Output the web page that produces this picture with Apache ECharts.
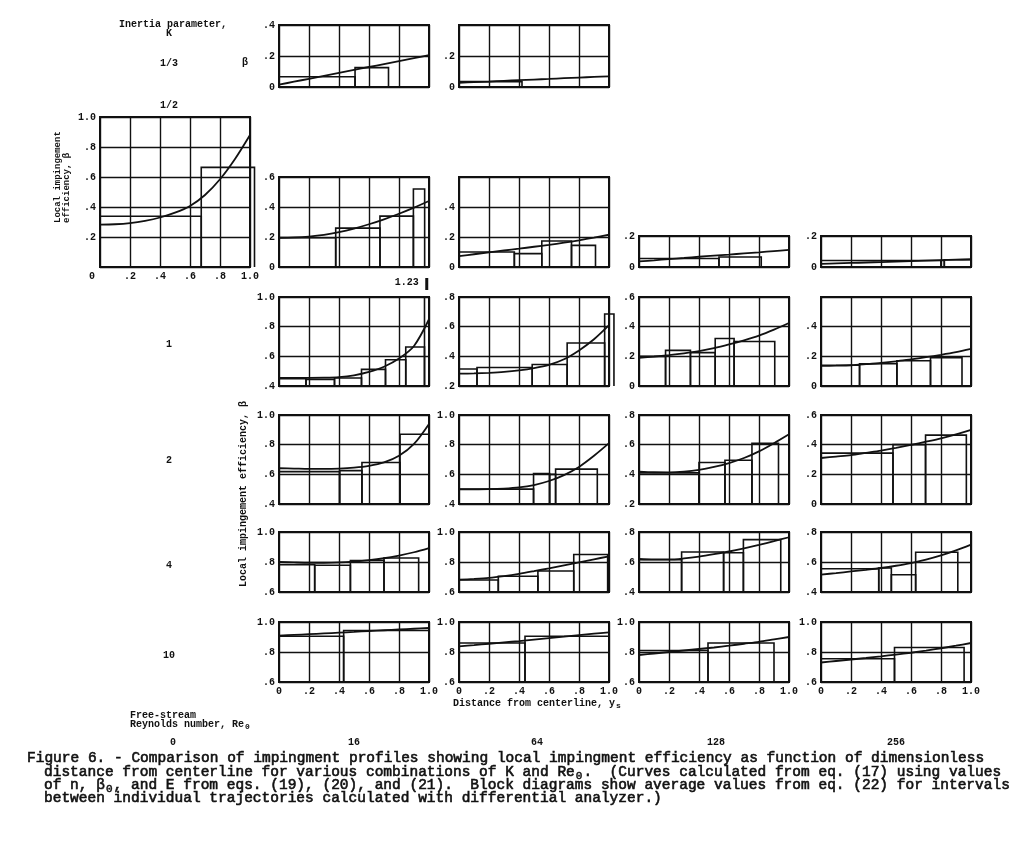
<!DOCTYPE html>
<html><head><meta charset="utf-8">
<script src="https://cdn.jsdelivr.net/npm/echarts@6/dist/echarts.min.js"></script>
<style>html,body{margin:0;padding:0;background:#fff}#c{width:1025px;height:842px}</style>
</head><body><div id="c"></div>
<script>
// ---------------- DATA ----------------
const xs = [0, 0.1, 0.2, 0.3, 0.4, 0.5, 0.6, 0.7, 0.8, 0.9, 1.0];
const kLabels = ['1/3', '1/2', '1', '2', '4', '10'];
const reLabels = ['0', '16', '64', '128', '256'];

// curves (beta at xs)
const curve_k13_re16 = [0.015, 0.034, 0.053, 0.072, 0.091, 0.11, 0.129, 0.148, 0.167, 0.186, 0.205];
const curve_k13_re64 = [0.027, 0.031, 0.035, 0.04, 0.044, 0.048, 0.052, 0.057, 0.061, 0.065, 0.069];
const curve_k12_re0 = [0.282, 0.285, 0.293, 0.308, 0.33, 0.362, 0.407, 0.48, 0.585, 0.72, 0.88];
const curve_k12_re16 = [0.195, 0.197, 0.203, 0.214, 0.232, 0.256, 0.285, 0.318, 0.355, 0.396, 0.44];
const curve_k12_re64 = [0.072, 0.085, 0.098, 0.11, 0.122, 0.135, 0.148, 0.162, 0.178, 0.196, 0.215];
const curve_k12_re128 = [0.036, 0.043, 0.051, 0.058, 0.066, 0.073, 0.08, 0.088, 0.095, 0.103, 0.11];
const curve_k12_re256 = [0.02, 0.023, 0.026, 0.029, 0.032, 0.035, 0.038, 0.041, 0.044, 0.047, 0.05];
const curve_k1_re16 = [0.455, 0.455, 0.455, 0.456, 0.46, 0.472, 0.495, 0.53, 0.585, 0.67, 0.85];
const curve_k1_re64 = [0.283, 0.285, 0.289, 0.295, 0.305, 0.32, 0.342, 0.38, 0.44, 0.515, 0.61];
const curve_k1_re128 = [0.19, 0.198, 0.208, 0.22, 0.235, 0.255, 0.28, 0.308, 0.34, 0.38, 0.425];
const curve_k1_re256 = [0.135, 0.137, 0.14, 0.147, 0.155, 0.166, 0.18, 0.194, 0.21, 0.228, 0.25];
const curve_k2_re16 = [0.641, 0.639, 0.637, 0.637, 0.639, 0.645, 0.657, 0.68, 0.725, 0.805, 0.94];
const curve_k2_re64 = [0.498, 0.499, 0.5, 0.504, 0.512, 0.528, 0.555, 0.595, 0.65, 0.725, 0.81];
const curve_k2_re128 = [0.418, 0.414, 0.413, 0.418, 0.43, 0.45, 0.476, 0.51, 0.555, 0.61, 0.67];
const curve_k2_re256 = [0.31, 0.32, 0.33, 0.345, 0.36, 0.378, 0.398, 0.42, 0.443, 0.47, 0.5];
const curve_k4_re16 = [0.8, 0.797, 0.795, 0.795, 0.797, 0.803, 0.812, 0.825, 0.843, 0.865, 0.893];
const curve_k4_re64 = [0.682, 0.687, 0.694, 0.706, 0.721, 0.739, 0.758, 0.778, 0.798, 0.818, 0.838];
const curve_k4_re128 = [0.62, 0.617, 0.617, 0.624, 0.636, 0.652, 0.67, 0.691, 0.714, 0.739, 0.765];
const curve_k4_re256 = [0.516, 0.526, 0.537, 0.548, 0.56, 0.575, 0.593, 0.616, 0.644, 0.678, 0.716];
const curve_k10_re16 = [0.909, 0.914, 0.919, 0.924, 0.929, 0.934, 0.94, 0.945, 0.95, 0.955, 0.96];
const curve_k10_re64 = [0.838, 0.846, 0.855, 0.864, 0.873, 0.883, 0.893, 0.903, 0.913, 0.922, 0.931];
const curve_k10_re128 = [0.78, 0.79, 0.8, 0.81, 0.82, 0.83, 0.842, 0.855, 0.868, 0.884, 0.9];
const curve_k10_re256 = [0.73, 0.74, 0.75, 0.76, 0.771, 0.783, 0.795, 0.809, 0.825, 0.842, 0.86];

// block diagrams: [from, to, average beta]
const blocks_k13_re16 = [[0, 0.507, 0.066], [0.507, 0.73, 0.125]];
const blocks_k13_re64 = [[0, 0.42, 0.035]];
const blocks_k12_re0 = [[0, 0.675, 0.338], [0.675, 1.03, 0.664]];
const blocks_k12_re16 = [[0, 0.378, 0.195], [0.378, 0.673, 0.259], [0.673, 0.896, 0.339], [0.896, 0.971, 0.52]];
const blocks_k12_re64 = [[0, 0.369, 0.1], [0.369, 0.552, 0.089], [0.552, 0.75, 0.173], [0.75, 0.91, 0.144]];
const blocks_k12_re128 = [[0, 0.533, 0.055], [0.533, 0.815, 0.065]];
const blocks_k12_re256 = [[0, 0.8, 0.042], [0.8, 0.822, 0.042], [0.822, 1.0, 0.047]];
const blocks_k1_re16 = [[0, 0.18, 0.449], [0.18, 0.37, 0.445], [0.37, 0.55, 0.454], [0.55, 0.71, 0.512], [0.71, 0.845, 0.577], [0.845, 0.97, 0.663], [0.97, 1.0, 1.23]];
const blocks_k1_re64 = [[0, 0.12, 0.315], [0.12, 0.488, 0.325], [0.488, 0.721, 0.345], [0.721, 0.971, 0.49], [0.971, 1.033, 0.685]];
const blocks_k1_re128 = [[0, 0.177, 0.2], [0.177, 0.343, 0.24], [0.343, 0.508, 0.225], [0.508, 0.634, 0.32], [0.634, 0.905, 0.3]];
const blocks_k1_re256 = [[0, 0.257, 0.14], [0.257, 0.506, 0.15], [0.506, 0.73, 0.17], [0.73, 0.94, 0.19]];
const blocks_k2_re16 = [[0, 0.404, 0.618], [0.404, 0.553, 0.625], [0.553, 0.807, 0.68], [0.807, 1.0, 0.87]];
const blocks_k2_re64 = [[0, 0.497, 0.5], [0.497, 0.604, 0.605], [0.604, 0.644, 0.6], [0.644, 0.922, 0.635]];
const blocks_k2_re128 = [[0, 0.4, 0.41], [0.4, 0.573, 0.48], [0.573, 0.753, 0.495], [0.753, 0.93, 0.61]];
const blocks_k2_re256 = [[0, 0.48, 0.343], [0.48, 0.697, 0.4], [0.697, 0.969, 0.464]];
const blocks_k4_re16 = [[0, 0.238, 0.782], [0.238, 0.476, 0.778], [0.476, 0.7, 0.81], [0.7, 0.931, 0.827]];
const blocks_k4_re64 = [[0, 0.262, 0.68], [0.262, 0.526, 0.705], [0.526, 0.765, 0.74], [0.765, 0.991, 0.85]];
const blocks_k4_re128 = [[0, 0.284, 0.615], [0.284, 0.564, 0.667], [0.564, 0.696, 0.662], [0.696, 0.945, 0.749]];
const blocks_k4_re256 = [[0, 0.385, 0.555], [0.385, 0.469, 0.56], [0.469, 0.631, 0.515], [0.631, 0.912, 0.665]];
const blocks_k10_re16 = [[0, 0.431, 0.905], [0.431, 1.0, 0.943]];
const blocks_k10_re64 = [[0, 0.44, 0.86], [0.44, 1.0, 0.905]];
const blocks_k10_re128 = [[0, 0.46, 0.81], [0.46, 0.9, 0.86]];
const blocks_k10_re256 = [[0, 0.49, 0.755], [0.49, 0.954, 0.83]];

// tick labels shown on each panel's beta axis
const xTickLabels = ['0', '.2', '.4', '.6', '.8', '1.0'];
const yl_k13_re16 = ['.4', '.2', '0'];
const yl_k13_re64 = ['.2', '0'];
const yl_k12_re0 = ['1.0', '.8', '.6', '.4', '.2'];
const yl_k12_re16 = ['.6', '.4', '.2', '0'];
const yl_k12_re64 = ['.4', '.2', '0'];
const yl_k12_re128 = ['.2', '0'];
const yl_k12_re256 = ['.2', '0'];
const yl_k1_re16 = ['1.0', '.8', '.6', '.4'];
const yl_k1_re64 = ['.8', '.6', '.4', '.2'];
const yl_k1_re128 = ['.6', '.4', '.2', '0'];
const yl_k1_re256 = ['.4', '.2', '0'];
const yl_k2_re16 = ['1.0', '.8', '.6', '.4'];
const yl_k2_re64 = ['1.0', '.8', '.6', '.4'];
const yl_k2_re128 = ['.8', '.6', '.4', '.2'];
const yl_k2_re256 = ['.6', '.4', '.2', '0'];
const yl_k4_re16 = ['1.0', '.8', '.6'];
const yl_k4_re64 = ['1.0', '.8', '.6'];
const yl_k4_re128 = ['.8', '.6', '.4'];
const yl_k4_re256 = ['.8', '.6', '.4'];
const yl_k10 = ['1.0', '.8', '.6'];

// ---------------- LAYOUT ----------------
const colLeft = [100, 279, 459, 639, 821];
const PW = 150;
const panels = [
  {col:1, top:25, h:62, ymin:0, ymax:0.4, c:curve_k13_re16, b:blocks_k13_re16, yl:yl_k13_re16},
  {col:2, top:25, h:62, ymin:0, ymax:0.4, c:curve_k13_re64, b:blocks_k13_re64, yl:yl_k13_re64},
  {col:0, top:117, h:150, ymin:0, ymax:1.0, c:curve_k12_re0, b:blocks_k12_re0, yl:yl_k12_re0, xl:'shift'},
  {col:1, top:177, h:90, ymin:0, ymax:0.6, c:curve_k12_re16, b:blocks_k12_re16, yl:yl_k12_re16},
  {col:2, top:177, h:90, ymin:0, ymax:0.6, c:curve_k12_re64, b:blocks_k12_re64, yl:yl_k12_re64},
  {col:3, top:236, h:31, ymin:0, ymax:0.2, c:curve_k12_re128, b:blocks_k12_re128, yl:yl_k12_re128},
  {col:4, top:236, h:31, ymin:0, ymax:0.2, c:curve_k12_re256, b:blocks_k12_re256, yl:yl_k12_re256},
  {col:1, top:297, h:89, ymin:0.4, ymax:1.0, c:curve_k1_re16, b:blocks_k1_re16, yl:yl_k1_re16},
  {col:2, top:297, h:89, ymin:0.2, ymax:0.8, c:curve_k1_re64, b:blocks_k1_re64, yl:yl_k1_re64},
  {col:3, top:297, h:89, ymin:0, ymax:0.6, c:curve_k1_re128, b:blocks_k1_re128, yl:yl_k1_re128},
  {col:4, top:297, h:89, ymin:0, ymax:0.6, c:curve_k1_re256, b:blocks_k1_re256, yl:yl_k1_re256},
  {col:1, top:415, h:89, ymin:0.4, ymax:1.0, c:curve_k2_re16, b:blocks_k2_re16, yl:yl_k2_re16},
  {col:2, top:415, h:89, ymin:0.4, ymax:1.0, c:curve_k2_re64, b:blocks_k2_re64, yl:yl_k2_re64},
  {col:3, top:415, h:89, ymin:0.2, ymax:0.8, c:curve_k2_re128, b:blocks_k2_re128, yl:yl_k2_re128},
  {col:4, top:415, h:89, ymin:0, ymax:0.6, c:curve_k2_re256, b:blocks_k2_re256, yl:yl_k2_re256},
  {col:1, top:532, h:60, ymin:0.6, ymax:1.0, c:curve_k4_re16, b:blocks_k4_re16, yl:yl_k4_re16},
  {col:2, top:532, h:60, ymin:0.6, ymax:1.0, c:curve_k4_re64, b:blocks_k4_re64, yl:yl_k4_re64},
  {col:3, top:532, h:60, ymin:0.4, ymax:0.8, c:curve_k4_re128, b:blocks_k4_re128, yl:yl_k4_re128},
  {col:4, top:532, h:60, ymin:0.4, ymax:0.8, c:curve_k4_re256, b:blocks_k4_re256, yl:yl_k4_re256},
  {col:1, top:622, h:60, ymin:0.6, ymax:1.0, c:curve_k10_re16, b:blocks_k10_re16, yl:yl_k10, xl:'plain'},
  {col:2, top:622, h:60, ymin:0.6, ymax:1.0, c:curve_k10_re64, b:blocks_k10_re64, yl:yl_k10, xl:'plain'},
  {col:3, top:622, h:60, ymin:0.6, ymax:1.0, c:curve_k10_re128, b:blocks_k10_re128, yl:yl_k10, xl:'plain'},
  {col:4, top:622, h:60, ymin:0.6, ymax:1.0, c:curve_k10_re256, b:blocks_k10_re256, yl:yl_k10, xl:'plain'}
];

const INK = '#111';
const MONO = '"Liberation Mono", "DejaVu Sans Mono", monospace';
const lblFont = {fontFamily: MONO, fontSize: 10, fontWeight: 'bold', color: INK};

function fmt(v) {
  const r = Math.round(v * 10);
  if (r === 0) return '0';
  if (r === 10) return '1.0';
  return '.' + r;
}

const grids = [], xAxes = [], yAxes = [], series = [];
panels.forEach((p, i) => {
  grids.push({left: colLeft[p.col], top: p.top, width: PW, height: p.h, show: true,
    borderColor: INK, borderWidth: 2, backgroundColor: 'transparent'});
  let xLabel = {show: false};
  if (p.xl) {
    xLabel = Object.assign({show: true, margin: 4,
      formatter: v => {
        const s = xTickLabels[Math.round(v * 5)];
        return (p.xl === 'shift' && s === '0') ? '{z|0}' : s;
      },
      rich: {z: Object.assign({padding: [0, 16, 0, 0]}, lblFont)}
    }, lblFont);
  }
  xAxes.push({gridIndex: i, type: 'value', min: 0, max: 1, interval: 0.2,
    axisLine: {show: false}, axisTick: {show: false},
    splitLine: {show: true, lineStyle: {color: INK, width: 1.4}},
    axisLabel: xLabel});
  yAxes.push({gridIndex: i, type: 'value', min: p.ymin, max: p.ymax, interval: 0.2,
    axisLine: {show: false}, axisTick: {show: false},
    splitLine: {show: true, lineStyle: {color: INK, width: 1.4}},
    axisLabel: Object.assign({show: true, margin: 4,
      formatter: v => (p.yl.indexOf(fmt(v)) >= 0 ? fmt(v) : '')}, lblFont)});
  series.push({type: 'line', xAxisIndex: i, yAxisIndex: i, data: xs.map((x, j) => [x, p.c[j]]),
    smooth: 0.3, showSymbol: false, symbol: 'none',
    lineStyle: {color: INK, width: 1.8}, silent: true, animation: false, z: 3});
  const ymin = p.ymin, ymax = p.ymax;
  series.push({type: 'custom', xAxisIndex: i, yAxisIndex: i, data: p.b, clip: false,
    encode: {x: [0, 1], y: 2}, silent: true, animation: false, z: 4,
    renderItem: (params, api) => {
      const x0 = api.value(0), x1 = api.value(1), v = api.value(2);
      const t = Math.min(v, ymax);
      const pts = [api.coord([x0, ymin]), api.coord([x0, t]), api.coord([x1, t]), api.coord([x1, ymin])];
      const kids = [{type: 'polyline', shape: {points: pts}, style: {stroke: INK, lineWidth: 1.6, fill: null}}];
      if (v > ymax) {
        const pm = api.coord([(x0 + x1) / 2, ymax]);
        kids.push({type: 'line', shape: {x1: pm[0], y1: pm[1] - 7, x2: pm[0], y2: pm[1] - 19},
          style: {stroke: INK, lineWidth: 3}});
        kids.push({type: 'text', style: {text: String(v), x: pm[0] - 8, y: pm[1] - 15,
          align: 'right', verticalAlign: 'middle', fill: INK,
          font: 'bold 10px ' + MONO}});
      }
      return {type: 'group', children: kids};
    }});
});

// ---------------- TEXT ----------------
function txt(s, x, y, o) {
  o = o || {};
  const st = {text: s, fill: INK, align: o.align || 'center', verticalAlign: 'middle',
    font: (o.weight || 'bold') + ' ' + (o.size || 10) + 'px ' + MONO};
  if (o.thick) { st.stroke = INK; st.lineWidth = o.thick; }
  return {type: 'text', x: x, y: y, rotation: o.rot || 0, silent: true, style: st};
}
const rowY = [63, 105, 344, 460, 565, 655];
const colLabelX = [173, 354, 537, 716, 896];
const g = [];
g.push(txt('Inertia parameter,', 173, 24.5));
g.push(txt('K', 169, 33.5));
kLabels.forEach((k, i) => g.push(txt(k, 169, rowY[i])));
g.push(txt('β', 245, 62));
g.push(txt('Local impingement', 58, 223, {rot: Math.PI / 2, align: 'left', size: 9}));
g.push(txt('efficiency, β', 67, 223, {rot: Math.PI / 2, align: 'left', size: 9}));
g.push(txt('Local impingement efficiency, β', 243, 494, {rot: Math.PI / 2}));
g.push(txt('Distance from centerline, y', 453, 703, {align: 'left'}));
g.push(txt('s', 453 + 27 * 6 + 1, 706, {align: 'left', size: 8}));
g.push(txt('Free-stream', 130, 715, {align: 'left'}));
g.push(txt('Reynolds number, Re', 130, 724, {align: 'left'}));
g.push(txt('0', 130 + 19 * 6 + 1, 727, {align: 'left', size: 8}));
reLabels.forEach((r, i) => g.push(txt(r, colLabelX[i], 742)));

// caption
const CAP = 14.5, CW = CAP * 0.6;
const capLines = [
  [27, 758, 'Figure 6. - Comparison of impingment profiles showing local impingment efficiency as function of dimensionless'],
  [44, 772, 'distance from centerline for various combinations of K and Re .  (Curves calculated from eq. (17) using values'],
  [44, 785, 'of n, β , and E from eqs. (19), (20), and (21).  Block diagrams show average values from eq. (22) for intervals'],
  [44, 798, 'between individual trajectories calculated with differential analyzer.)']
];
capLines.forEach(l => g.push(txt(l[2], l[0], l[1], {align: 'left', size: CAP, weight: 'normal', thick: 0.6})));
// subscripts typed in the blank cells
g.push(txt('0', 44 + 61 * CW + CW / 2, 776, {size: 11, weight: 'normal', thick: 0.5}));
g.push(txt('0', 44 + 7 * CW + CW / 2, 789, {size: 11, weight: 'normal', thick: 0.5}));

const chart = echarts.init(document.getElementById('c'), null, {renderer: 'canvas'});
chart.setOption({
  backgroundColor: '#fff', animation: false,
  grid: grids, xAxis: xAxes, yAxis: yAxes, series: series, graphic: g
});
</script></body></html>
